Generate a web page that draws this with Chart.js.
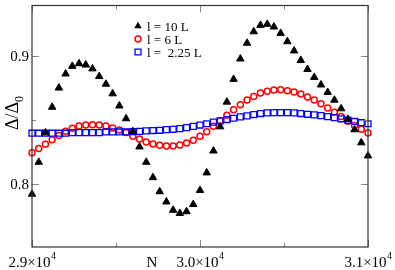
<!DOCTYPE html>
<html>
<head>
<meta charset="utf-8">
<script src="https://cdn.jsdelivr.net/npm/chart.js@4.4.0/dist/chart.umd.min.js"></script>
<style>
  html, body { margin: 0; padding: 0; background: #fff; }
</style>
</head>
<body>
<canvas id="chart" width="395" height="270"></canvas>
<script>
// N values (step 40 from 2.9e4 to 3.1e4)
const nValues = [29000,29040,29080,29120,29160,29200,29240,29280,29320,29360,
  29400,29440,29480,29520,29560,29600,29640,29680,29720,29760,
  29800,29840,29880,29920,29960,30000,30040,30080,30120,30160,
  30200,30240,30280,30320,30360,30400,30440,30480,30520,30560,
  30600,30640,30680,30720,30760,30800,30840,30880,30920,30960,31000];

const l10 = [0.792,0.817,0.840,0.860,0.875,0.886,0.892,0.894,0.893,0.890,
  0.884,0.878,0.8705,0.861,0.851,0.841,0.829,0.817,0.805,0.794,
  0.786,0.7795,0.777,0.7784,0.784,0.795,0.8087,0.8258,0.8447,0.864,
  0.8818,0.8977,0.910,0.919,0.924,0.9248,0.9227,0.9177,0.9112,0.904,
  0.8966,0.8895,0.8833,0.8774,0.8716,0.8655,0.8588,0.8506,0.8424,0.8322,0.822];

const l6 = [0.8243,0.8276,0.8309,0.8345,0.8378,0.8411,0.8434,0.8452,0.846,0.8463,
  0.846,0.8452,0.8437,0.8421,0.8401,0.8373,0.835,0.8327,0.8312,0.8302,
  0.8296,0.8296,0.8304,0.832,0.8342,0.8373,0.8407,0.845,0.8493,0.8536,
  0.858,0.8619,0.8655,0.8682,0.8711,0.8724,0.8734,0.8736,0.8728,0.8718,
  0.8703,0.868,0.8655,0.8626,0.8593,0.856,0.8526,0.849,0.8457,0.8427,0.8398];

const l225 = [0.8396,0.8396,0.8396,0.8396,0.8396,0.8396,0.8401,0.8401,0.8401,0.8401,
  0.8401,0.8406,0.8406,0.8406,0.8406,0.8409,0.8411,0.8414,0.8417,0.8419,
  0.8424,0.8427,0.8432,0.844,0.845,0.846,0.847,0.8483,0.8493,0.8503,
  0.8513,0.8524,0.8532,0.8542,0.855,0.8555,0.8557,0.8557,0.8557,0.8555,
  0.855,0.8544,0.8539,0.8534,0.8526,0.8518,0.8509,0.8498,0.8488,0.8478,0.847];

const seriesLabels = ['l = 10 L', 'l = 6 L', 'l =  2.25 L'];
const xMajor = [29000, 30000, 31000];
const xMinor = [29500, 30500];
const xTickText = ['2.9', '3.0', '3.1'];
const yMajor = [0.8, 0.9];
const yMinor = [0.85];
const yTickText = ['0.8', '0.9'];

const pts = (ys) => ys.map((v, i) => ({ x: nValues[i], y: v }));
const serif = '"Liberation Serif", "DejaVu Serif", serif';

// frame, inward ticks, tick labels, axis titles and legend
const framePlugin = {
  id: 'frame',
  afterDraw(chart) {
    const { ctx, chartArea: a, scales: { x, y } } = chart;
    ctx.save();
    ctx.strokeStyle = '#888';
    ctx.lineWidth = 1;
    ctx.beginPath();
    const vt = (v, len) => {
      const px = Math.round(x.getPixelForValue(v)) + 0.5;
      ctx.moveTo(px, a.bottom); ctx.lineTo(px, a.bottom - len);
      ctx.moveTo(px, a.top); ctx.lineTo(px, a.top + len);
    };
    const ht = (v, len) => {
      const py = Math.round(y.getPixelForValue(v)) + 0.5;
      ctx.moveTo(a.left, py); ctx.lineTo(a.left + len, py);
      ctx.moveTo(a.right, py); ctx.lineTo(a.right - len, py);
    };
    xMajor.forEach(v => vt(v, 7));
    xMinor.forEach(v => vt(v, 4));
    yMajor.forEach(v => ht(v, 7));
    yMinor.forEach(v => ht(v, 4));
    ctx.stroke();

    ctx.strokeStyle = '#333';
    ctx.lineWidth = 1.2;
    ctx.strokeRect(a.left, a.top, a.right - a.left, a.bottom - a.top);

    ctx.fillStyle = '#000';
    // y tick labels
    ctx.font = '15px ' + serif;
    ctx.textAlign = 'right';
    ctx.textBaseline = 'middle';
    yMajor.forEach((v, i) => ctx.fillText(yTickText[i], a.left - 3, y.getPixelForValue(v) + 1));

    // x tick labels with superscript
    ctx.textBaseline = 'alphabetic';
    ctx.textAlign = 'left';
    xMajor.forEach((v, i) => {
      ctx.font = '15px ' + serif;
      const main = xTickText[i] + '\u00d710';
      const w1 = ctx.measureText(main).width;
      ctx.font = '10px ' + serif;
      const w2 = ctx.measureText('4').width;
      const x0 = x.getPixelForValue(v) - (w1 + w2) / 2;
      ctx.font = '15px ' + serif;
      ctx.fillText(main, x0, 267);
      ctx.font = '10px ' + serif;
      ctx.fillText('4', x0 + w1 + 0.5, 259);
    });

    // x title
    ctx.font = '15px ' + serif;
    ctx.textAlign = 'center';
    ctx.fillText('N', 152, 267);

    // y title rotated
    ctx.save();
    ctx.translate(18, 112);
    ctx.rotate(-Math.PI / 2);
    ctx.font = '18px ' + serif;
    ctx.textAlign = 'left';
    const t = '\u0394/\u0394';
    const tw = ctx.measureText(t).width;
    ctx.fillText(t, -tw / 2 - 4, 0);
    ctx.font = '12px ' + serif;
    ctx.fillText('0', tw / 2 - 4, 5);
    ctx.restore();

    // legend
    ctx.font = '13px ' + serif;
    ctx.textAlign = 'left';
    const rows = [26, 39, 52];
    chart.data.datasets.forEach((ds, i) => {
      const cy = rows[i];
      ctx.beginPath();
      ctx.lineWidth = ds.borderWidth;
      ctx.strokeStyle = ds.borderColor;
      ctx.fillStyle = ds.backgroundColor;
      if (ds.pointStyle === 'triangle') {
        const r = ds.pointRadius;
        ctx.moveTo(138, cy - r);
        ctx.lineTo(138 + r * 0.866, cy + r / 2);
        ctx.lineTo(138 - r * 0.866, cy + r / 2);
        ctx.closePath();
        ctx.fill();
      } else if (ds.pointStyle === 'circle') {
        ctx.arc(138, cy, ds.pointRadius, 0, Math.PI * 2);
        ctx.stroke();
      } else {
        const h = ds.pointRadius * Math.SQRT1_2;
        ctx.rect(138 - h, cy - h, 2 * h, 2 * h);
        ctx.stroke();
      }
      ctx.fillStyle = '#000';
      ctx.fillText(seriesLabels[i], 147, cy + 4.5);
    });
    ctx.restore();
  }
};

const ctx = document.getElementById('chart').getContext('2d');
new Chart(ctx, {
  type: 'scatter',
  data: {
    datasets: [
      { label: seriesLabels[0], data: pts(l10), pointStyle: 'triangle', pointRadius: 4.3,
        backgroundColor: '#000', borderColor: '#000', borderWidth: 1, order: 0, clip: false },
      { label: seriesLabels[1], data: pts(l6), pointStyle: 'circle', pointRadius: 3,
        backgroundColor: 'rgba(0,0,0,0)', borderColor: '#ff0000', borderWidth: 1.5, order: 2, clip: false },
      { label: seriesLabels[2], data: pts(l225), pointStyle: 'rect', pointRadius: 4.2,
        backgroundColor: 'rgba(0,0,0,0)', borderColor: '#0000ff', borderWidth: 1.3, order: 1, clip: false }
    ]
  },
  options: {
    responsive: false,
    animation: false,
    layout: { padding: { left: 32, right: 27, top: 1, bottom: 23 } },
    scales: {
      x: { type: 'linear', min: 29000, max: 31000, display: false },
      y: { type: 'linear', min: 0.7507, max: 0.9394, display: false }
    },
    plugins: { legend: { display: false }, tooltip: { enabled: false } }
  },
  plugins: [framePlugin]
});
</script>
</body>
</html>
